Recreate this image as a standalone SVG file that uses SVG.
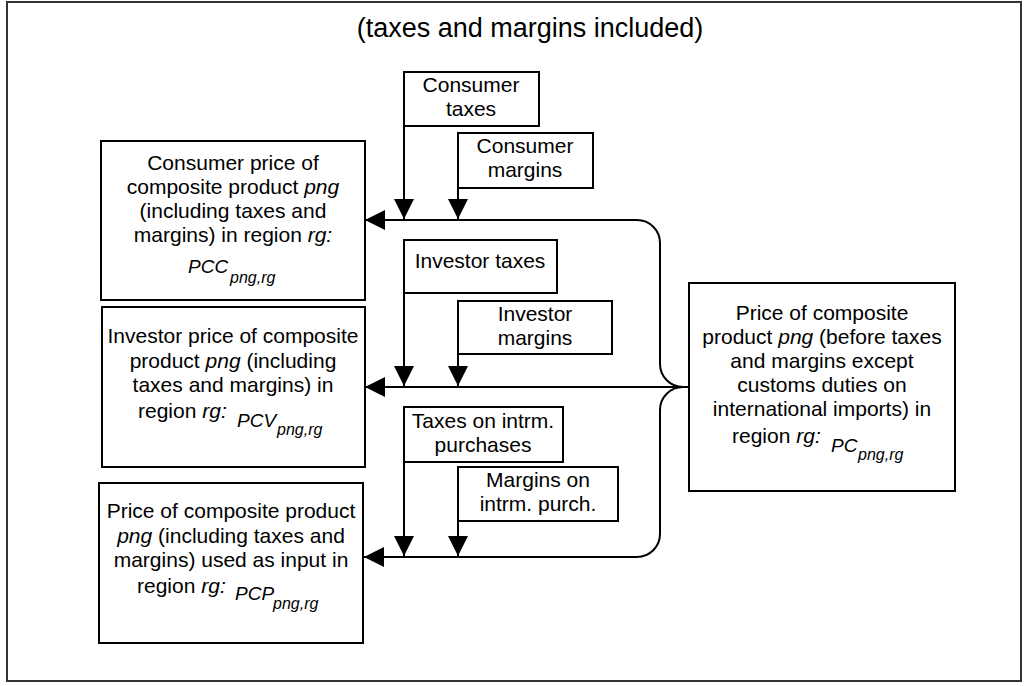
<svg xmlns="http://www.w3.org/2000/svg" width="1024" height="686" viewBox="0 0 1024 686">
  <style>
    text { font-family: "Liberation Sans", Arial, sans-serif; fill: #000; }
    .title { font-size: 27px; text-anchor: middle; }
    .lbl { font-size: 21px; text-anchor: middle; }
    .it { font-style: italic; }
    .rg { font-size: 21px; }
    .sym { font-size: 19px; font-style: italic; }
    .sub { font-size: 16px; font-style: italic; }
    .box { fill: #fff; stroke: #000; stroke-width: 2; }
    .frame { fill: #fff; stroke: #333; stroke-width: 2; }
    .conn { fill: none; stroke: #000; stroke-width: 2; }
  </style>
  <defs>
    <marker id="arrow" markerUnits="userSpaceOnUse" markerWidth="20" markerHeight="20" refX="20" refY="10" orient="auto">
      <path d="M0,0 L20,10 L0,20 Z" fill="#000"/>
    </marker>
  </defs>

  <!-- outer frame and heading -->
  <rect class="frame" x="7" y="2" width="1014" height="679"/>
  <text class="title" x="530" y="37">(taxes and margins included)</text>

  <!-- connectors: brace joining the three price lines, and the arrows -->
  <g id="connectors">
    <path class="conn" d="M637,220 A23,23 0 0 1 660,243 V364 A23,23 0 0 0 683,387 A23,23 0 0 0 660,410 V534 A23,23 0 0 1 637,557"/>
    <path class="conn" d="M637,220 H365" marker-end="url(#arrow)"/>
    <path class="conn" d="M689,387 H365" marker-end="url(#arrow)"/>
    <path class="conn" d="M637,557 H364" marker-end="url(#arrow)"/>
    <path class="conn" d="M404,126 V219" marker-end="url(#arrow)"/>
    <path class="conn" d="M458,188 V219" marker-end="url(#arrow)"/>
    <path class="conn" d="M404,293 V386" marker-end="url(#arrow)"/>
    <path class="conn" d="M458,354 V386" marker-end="url(#arrow)"/>
    <path class="conn" d="M404,462 V556" marker-end="url(#arrow)"/>
    <path class="conn" d="M458,521 V556" marker-end="url(#arrow)"/>
  </g>

  <!-- consumer price -->
  <g id="pcc">
    <rect class="box" x="101" y="141" width="264" height="159"/>
    <text class="lbl" x="233" y="170">Consumer price of</text>
    <text class="lbl" x="233" y="194">composite product <tspan class="it">png</tspan></text>
    <text class="lbl" x="233" y="218">(including taxes and</text>
    <text class="lbl" x="233" y="242">margins) in region <tspan class="it">rg:</tspan></text>
    <text class="sym" x="188" y="273">PCC</text>
    <text class="sub" x="230" y="283">png,rg</text>
  </g>

  <!-- investor price -->
  <g id="pcv">
    <rect class="box" x="102" y="307" width="263" height="160"/>
    <text class="lbl" x="233" y="343">Investor price of composite</text>
    <text class="lbl" x="233" y="368">product <tspan class="it">png</tspan> (including</text>
    <text class="lbl" x="233" y="392">taxes and margins) in</text>
    <text class="rg" x="138" y="418">region <tspan class="it">rg:</tspan></text>
    <text class="sym" x="237" y="427">PCV</text>
    <text class="sub" x="277" y="435">png,rg</text>
  </g>

  <!-- intermediate-input price -->
  <g id="pcp">
    <rect class="box" x="99" y="483" width="264" height="160"/>
    <text class="lbl" x="231" y="518">Price of composite product</text>
    <text class="lbl" x="231" y="543"><tspan class="it">png</tspan> (including taxes and</text>
    <text class="lbl" x="231" y="567">margins) used as input in</text>
    <text class="rg" x="137" y="593">region <tspan class="it">rg:</tspan></text>
    <text class="sym" x="235" y="600">PCP</text>
    <text class="sub" x="273" y="609">png,rg</text>
  </g>

  <!-- basic composite price -->
  <g id="pc">
    <rect class="box" x="689" y="283" width="266" height="208"/>
    <text class="lbl" x="822" y="320">Price of composite</text>
    <text class="lbl" x="822" y="344">product <tspan class="it">png</tspan> (before taxes</text>
    <text class="lbl" x="822" y="368">and margins except</text>
    <text class="lbl" x="822" y="392">customs duties on</text>
    <text class="lbl" x="822" y="416">international imports) in</text>
    <text class="rg" x="732" y="443">region <tspan class="it">rg:</tspan></text>
    <text class="sym" x="831" y="452">PC</text>
    <text class="sub" x="858" y="460">png,rg</text>
  </g>

  <!-- tax and margin inputs -->
  <g id="consumer-taxes">
    <rect class="box" x="404" y="72" width="135" height="54"/>
    <text class="lbl" x="471" y="92">Consumer</text>
    <text class="lbl" x="471" y="116">taxes</text>
  </g>
  <g id="consumer-margins">
    <rect class="box" x="458" y="133" width="135" height="55"/>
    <text class="lbl" x="525" y="153">Consumer</text>
    <text class="lbl" x="525" y="177">margins</text>
  </g>
  <g id="investor-taxes">
    <rect class="box" x="404" y="240" width="153" height="53"/>
    <text class="lbl" x="480" y="268">Investor taxes</text>
  </g>
  <g id="investor-margins">
    <rect class="box" x="458" y="301" width="154" height="53"/>
    <text class="lbl" x="535" y="321">Investor</text>
    <text class="lbl" x="535" y="345">margins</text>
  </g>
  <g id="intrm-taxes">
    <rect class="box" x="404" y="407" width="159" height="55"/>
    <text class="lbl" x="483" y="428">Taxes on intrm.</text>
    <text class="lbl" x="483" y="452">purchases</text>
  </g>
  <g id="intrm-margins">
    <rect class="box" x="458" y="467" width="160" height="54"/>
    <text class="lbl" x="538" y="487">Margins on</text>
    <text class="lbl" x="538" y="511">intrm. purch.</text>
  </g>
</svg>
